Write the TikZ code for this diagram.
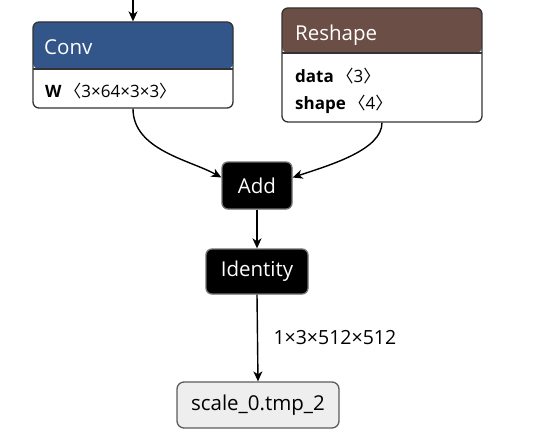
\documentclass[tikz,border=0pt]{standalone}
\usepackage{fontspec}
\setmainfont{Open Sans}
\newfontfamily\cjk{Noto Sans CJK SC}
\usetikzlibrary{arrows.meta}

\definecolor{convblau}{HTML}{33568A}
\definecolor{reshapebraun}{HTML}{6B4F46}
\definecolor{rahmen}{HTML}{333333}
\definecolor{ausgabegrau}{HTML}{EEEEEE}

\newcommand{\klauf}{{\cjk 〈}}
\newcommand{\klzu}{{\cjk 〉}}

\tikzset{
	pfeil/.style={-{Stealth[length=10pt,width=9pt,inset=3pt]}, line width=1.4pt, black},
	opbox/.style={draw=rahmen, line width=1.3pt, rounded corners=6pt, fill=white, minimum width=200pt, inner sep=0pt},
	schwarzbox/.style={draw=rahmen!70, line width=1.3pt, rounded corners=6pt, fill=black, text=white, inner sep=0pt, font=\fontsize{20.5}{24}\selectfont},
	kopftext/.style={anchor=base west, text=white, inner sep=0pt, font=\fontsize{20.5}{24}\selectfont},
	attrtext/.style={anchor=base west, inner sep=0pt, font=\fontsize{17}{20}\selectfont}
}

\begin{document}
\begin{tikzpicture}[x=1pt, y=-1pt]
		\useasboundingbox (0,0) rectangle (549,436);
		
		% Conv-Knoten mit Kopfzeile
		\node[opbox, minimum height=86pt, path picture={
			\fill[convblau] (path picture bounding box.north west) rectangle ([yshift=-47pt]path picture bounding box.north east);
			\draw[rahmen, line width=1.3pt] ([yshift=-47pt]path picture bounding box.north west) -- ([yshift=-47pt]path picture bounding box.north east);
		}] (conv) at (133,65) {};
		\node[kopftext] (convkopf) at (44,55) {Conv};
		\node[attrtext] (convw) at (45,97) {\textbf{W}\,\klauf 3×64×3×3\klzu};
		
		% Reshape-Knoten mit Kopfzeile
		\node[opbox, minimum height=114pt, path picture={
			\fill[reshapebraun] (path picture bounding box.north west) rectangle ([yshift=-45pt]path picture bounding box.north east);
			\draw[rahmen, line width=1.3pt] ([yshift=-45pt]path picture bounding box.north west) -- ([yshift=-45pt]path picture bounding box.north east);
		}] (reshape) at (382,65) {};
		\node[kopftext] (reshapekopf) at (295,41) {Reshape};
		\node[attrtext] (reshapedata) at (295,83) {\textbf{data}\,\klauf 3\klzu};
		\node[attrtext] (reshapeshape) at (295,109) {\textbf{shape}\,\klauf 4\klzu};
		
		% Add, Identity und Ausgabe
		\node[schwarzbox, minimum width=70pt, minimum height=47pt] (add) at (257,185.5) {Add};
		\node[schwarzbox, minimum width=102pt, minimum height=45pt] (identity) at (257,271.5) {Identity};
		\node[draw=rahmen!80, line width=1.3pt, rounded corners=7pt, fill=ausgabegrau, minimum width=162pt, minimum height=46pt, inner sep=0pt, font=\fontsize{20.5}{24}\selectfont] (ausgabe) at (258,405) {scale\_0.tmp\_2};
		
		% Kanten
		\coordinate (convein) at (133,0);
		\draw[pfeil] (convein) -- (conv.north);
		\draw[pfeil] (conv.south) .. controls (133,150) and (190,160) .. ([yshift=8pt]add.west);
		\draw[pfeil] (reshape.south) .. controls (382,150) and (330,165) .. ([yshift=8pt]add.east);
		\draw[pfeil] (add.south) -- (identity.north);
		\draw[pfeil] (identity.south) -- (ausgabe.north) node[midway, anchor=west, xshift=12pt, font=\fontsize{19.5}{23}\selectfont] (kantentext) {1×3×512×512};
	\end{tikzpicture}
\end{document}
